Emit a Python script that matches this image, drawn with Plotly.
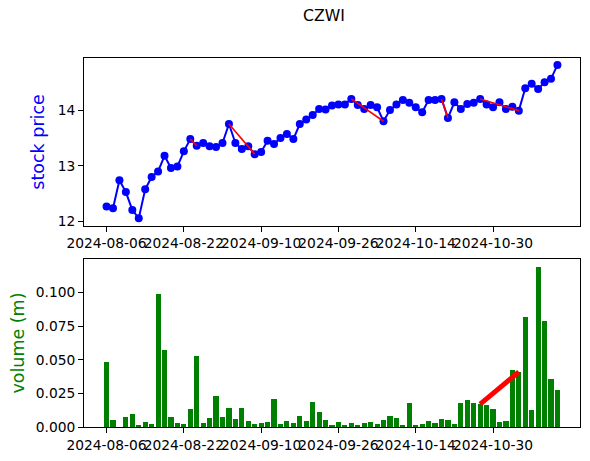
import pandas as pd
import plotly.graph_objects as go
from plotly.subplots import make_subplots

ticker = "CZWI"

# trading days (Labor Day 2024-09-02 closed)
_days = pd.bdate_range("2024-08-06", periods=72)
dates = [d.strftime("%Y-%m-%d") for d in _days if d.strftime("%Y-%m-%d") != "2024-09-02"][:71]

price = [12.27, 12.24, 12.74, 12.53, 12.21, 12.06, 12.58, 12.80, 12.90, 13.18,
         12.96, 12.99, 13.26, 13.48, 13.36, 13.41, 13.35, 13.34, 13.41, 13.75,
         13.41, 13.30, 13.35, 13.21, 13.25, 13.45, 13.39, 13.50, 13.57, 13.48,
         13.75, 13.83, 13.91, 14.02, 14.01, 14.08, 14.10, 14.10, 14.20, 14.09,
         14.02, 14.09, 14.05, 13.80, 14.00, 14.10, 14.18, 14.13, 14.05, 13.96,
         14.18, 14.18, 14.20, 13.86, 14.14, 14.02, 14.11, 14.13, 14.20, 14.10,
         14.05, 14.14, 14.02, 14.06, 13.99, 14.39, 14.47, 14.38, 14.50, 14.56,
         14.81]

volume = [0.048, 0.005, 0.000, 0.0075, 0.0097, 0.0015, 0.0035, 0.0025, 0.099, 0.0573,
          0.0075, 0.003, 0.0025, 0.0135, 0.053, 0.003, 0.0067, 0.0232, 0.0075, 0.0142,
          0.0057, 0.0142, 0.0042, 0.0025, 0.003, 0.0037, 0.0207, 0.0025, 0.0042, 0.003,
          0.0082, 0.0042, 0.0185, 0.011, 0.0052, 0.0015, 0.0035, 0.0015, 0.003, 0.0007,
          0.003, 0.0037, 0.0022, 0.0052, 0.0082, 0.0064, 0.0007, 0.0177, 0.0015, 0.0022,
          0.0042, 0.003, 0.0057, 0.0052, 0.0022, 0.0177, 0.0197, 0.0177, 0.017, 0.016,
          0.013, 0.0037, 0.0042, 0.042, 0.041, 0.0815, 0.0126, 0.119, 0.079, 0.0355,
          0.0275]

# highlighted drops (start index, end index)
price_segments = [(13, 14), (19, 23), (38, 43), (52, 53), (58, 64)]
volume_segment = (58, 64)

tick_labels = ["2024-08-06", "2024-08-22", "2024-09-10", "2024-09-26", "2024-10-14", "2024-10-30"]

BLUE = "#0000ff"
GREEN = "#008000"
RED = "#ff0000"
FONT = "DejaVu Sans"

fig = make_subplots(rows=2, cols=1, vertical_spacing=0.09)

fig.add_trace(go.Scatter(x=dates, y=price, mode="lines+markers",
                         line=dict(color=BLUE, width=2),
                         marker=dict(color=BLUE, size=8),
                         showlegend=False), row=1, col=1)
for a, b in price_segments:
    fig.add_trace(go.Scatter(x=[dates[a], dates[b]], y=[price[a], price[b]], mode="lines",
                             line=dict(color=RED, width=1.6), showlegend=False), row=1, col=1)

fig.add_trace(go.Bar(x=dates, y=volume, marker=dict(color=GREEN, line=dict(width=0)),
                     width=0.8, showlegend=False), row=2, col=1)
a, b = volume_segment
fig.add_trace(go.Scatter(x=[dates[a], dates[b]], y=[volume[a], volume[b]], mode="lines",
                         line=dict(color=RED, width=5), showlegend=False), row=2, col=1)

axis_common = dict(showline=True, mirror=True, linecolor="black", linewidth=1,
                   ticks="outside", ticklen=5, tickwidth=1, tickcolor="black",
                   showgrid=False, zeroline=False, automargin=False,
                   tickfont=dict(family=FONT, size=13.8, color="black"))

for r in (1, 2):
    fig.update_xaxes(type="category", range=[-3.5, 73.5],
                     tickmode="array", tickvals=[dates[i] for i in range(0, 71, 12)],
                     ticktext=tick_labels, tickangle=0, row=r, col=1, **axis_common)

fig.update_yaxes(range=[11.923, 14.934], tickvals=[12, 13, 14],
                 title=dict(text="stock price", font=dict(family=FONT, size=17.5, color=BLUE), standoff=8),
                 row=1, col=1, **axis_common)
fig.update_yaxes(range=[0, 0.1249], tickvals=[0, 0.025, 0.05, 0.075, 0.1], tickformat=".3f",
                 title=dict(text="volume (m)", font=dict(family=FONT, size=17.5, color=GREEN), standoff=6),
                 row=2, col=1, **axis_common)

W, H = 590, 461
fig.update_layout(
    width=W, height=H,
    margin=dict(l=84, r=10, t=58, b=34),
    plot_bgcolor="white", paper_bgcolor="white",
    bargap=0,
    title=dict(text=ticker, x=324 / W, xanchor="center", y=1 - 16 / H, yanchor="middle",
               font=dict(family=FONT, size=15.7, color="black")),
    showlegend=False,
)
fig.update_layout(yaxis=dict(domain=[0.545, 1.0]), yaxis2=dict(domain=[0.0, 0.455]))

fig.write_html("out.html", config={"displayModeBar": False},
               post_script="document.body.style.margin='0';")
